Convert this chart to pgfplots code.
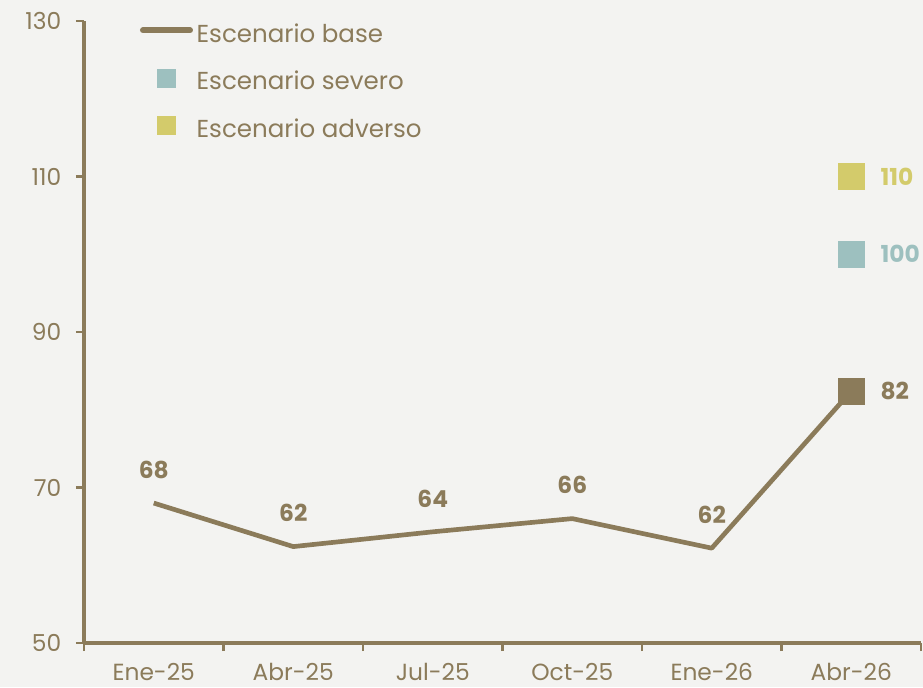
\documentclass[border=0pt]{standalone}
\usepackage{pgfplots}
\pgfplotsset{compat=1.18}
\usepackage{fontspec}
\setmainfont{Poppins}
\definecolor{basec}{HTML}{8B7B5A}
\definecolor{sev}{HTML}{9DC0BF}
\definecolor{adv}{HTML}{D3CB6B}
\definecolor{bg}{HTML}{F3F3F1}
\begin{document}
\begin{tikzpicture}
\fill[bg] (0,0) rectangle (692.25pt,515.25pt);
\begin{axis}[
  at={(63pt,33pt)}, anchor=south west,
  scale only axis, width=627.75pt, height=466.5pt,
  xmin=0, xmax=6, ymin=50, ymax=130,
  axis x line*=bottom, axis y line*=left,
  axis line style={line width=2.4pt, draw=basec, -},
  xtick={0.5,1.5,2.5,3.5,4.5,5.5},
  xticklabels={Ene-25,Abr-25,Jul-25,Oct-25,Ene-26,Abr-26},
  major x tick style={draw=none},
  minor xtick={0,1,2,3,4,5,6},
  ytick={50,70,90,110,130},
  tick align=outside,
  major tick length=6pt, minor tick length=6pt,
  tick style={line width=2pt, draw=basec},
  ticklabel style={font=\fontsize{17.5}{20}\selectfont, text=basec},
  xticklabel style={yshift=-5.5pt},
  yticklabel style={xshift=-7.5pt},
  /pgf/number format/assume math mode=true,
  clip=false,
  legend style={draw=none, fill=none, at={(0.0669,1)}, anchor=north west, yshift=-3pt,
    inner sep=0pt, outer sep=0pt, row sep=15.75pt,
    font=\fontsize{18.4}{20}\selectfont, text=basec,
    nodes={inner sep=0pt, text height=13pt, text depth=4pt}},
  legend cell align=left,
]
\addplot[basec, line width=3.5pt, line join=round,
  legend image code/.code={\path[draw=none,fill=none] (0pt,0pt) rectangle (42.5pt,0pt);
    \draw[line width=4.5pt, line cap=round, basec] (2.25pt,4.5pt) -- (37.5pt,4.5pt);}]
  coordinates {(0.5,68.0) (1.5,62.4) (2.5,64.3) (3.5,66.0) (4.5,62.2) (5.5,82.4)};
\addlegendentry{Escenario base}
\addplot[forget plot, draw=none, nodes near coords, point meta=explicit symbolic,
  every node near coord/.style={font=\bfseries\fontsize{17.5}{20}\selectfont, text=basec, anchor=center, yshift=25pt}]
  coordinates {(0.5,68.0)[68] (1.5,62.4)[62] (2.5,64.3)[64] (3.5,66.0)[66] (4.5,62.2)[62]};
\addplot[forget plot, only marks, mark=square*, mark size=9.6pt, basec, mark options={draw=basec, fill=basec},
  nodes near coords, point meta=explicit symbolic,
  every node near coord/.style={font=\bfseries\fontsize{17.5}{20}\selectfont, text=basec, anchor=west, inner sep=0pt, xshift=21.75pt}]
  coordinates {(5.5,82.4)[82]};
\addplot[only marks, mark=square*, mark size=9.6pt, mark options={draw=sev, fill=sev},
  nodes near coords, point meta=explicit symbolic,
  every node near coord/.style={font=\bfseries\fontsize{17.5}{20}\selectfont, text=sev, anchor=west, inner sep=0pt, xshift=21.75pt},
  legend image code/.code={\path[draw=none,fill=none] (0pt,0pt) rectangle (42.5pt,0pt);
    \fill[sev] (13pt,-2.25pt) rectangle (26.5pt,11.25pt);}]
  coordinates {(5.5,100)[100]};
\addlegendentry{Escenario severo}
\addplot[only marks, mark=square*, mark size=9.6pt, mark options={draw=adv, fill=adv},
  nodes near coords, point meta=explicit symbolic,
  every node near coord/.style={font=\bfseries\fontsize{17.5}{20}\selectfont, text=adv, anchor=west, inner sep=0pt, xshift=21.75pt},
  legend image code/.code={\path[draw=none,fill=none] (0pt,0pt) rectangle (42.5pt,0pt);
    \fill[adv] (13pt,-2.25pt) rectangle (26.5pt,11.25pt);}]
  coordinates {(5.5,110)[110]};
\addlegendentry{Escenario adverso}
\end{axis}
\pgfresetboundingbox
\path[use as bounding box] (0,0) rectangle (692.25pt,515.25pt);
\end{tikzpicture}
\end{document}
